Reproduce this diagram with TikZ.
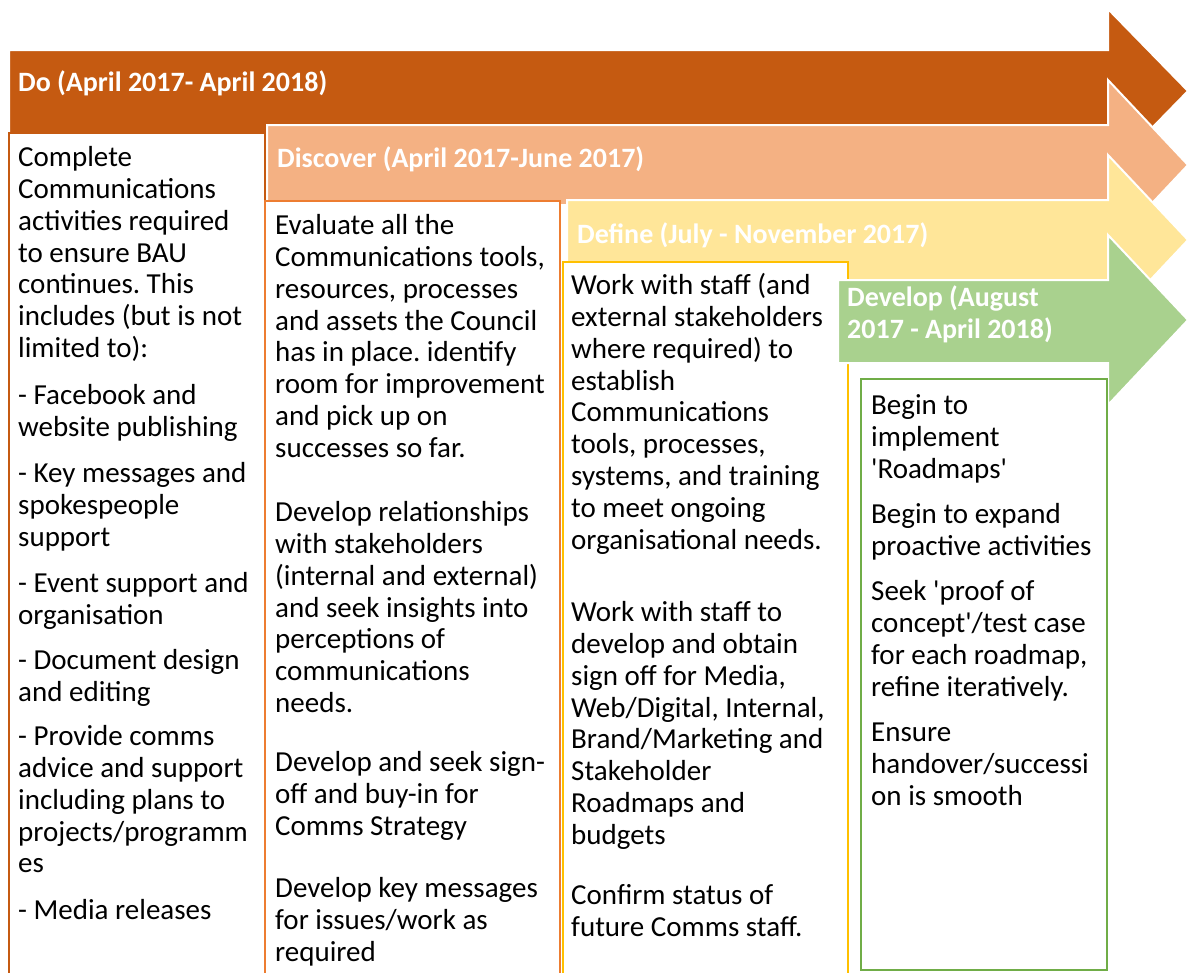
\documentclass[tikz,border=0pt]{standalone}
\usepackage{fontspec}
\setmainfont{Carlito}[Ligatures=TeXOff]
\frenchspacing
\definecolor{doc}{HTML}{C55A11}
\definecolor{disc}{HTML}{F4B183}
\definecolor{discb}{HTML}{ED7D31}
\definecolor{defc}{HTML}{FFE699}
\definecolor{defb}{HTML}{FFC000}
\definecolor{devc}{HTML}{A9D18E}
\definecolor{devb}{HTML}{70AD47}
\newcommand\firstlinestrut{\rule{0pt}{24pt}}
\tikzset{
  x=1pt, y=-1pt,
  phasearrow/.style={draw=white, line width=2pt, line join=miter},
  phasebox/.style={fill=white, line width=2.2pt},
  phasetitle/.style={anchor=north west, inner sep=0pt, align=left, text=white,
    font=\fontsize{28}{32}\selectfont\bfseries},
  bodytext/.style={anchor=north west, inner sep=0pt, align=left,
    font=\fontsize{29}{31.8}\selectfont},
}
\begin{document}
\begin{tikzpicture}
\useasboundingbox (0,0) rectangle (1188,972);
% phase arrows, back to front
\fill[doc, phasearrow] (9,50) -- (1108,50) -- (1108,9) -- (1188,91) -- (1108,173) -- (1108,133) -- (9,133) -- cycle;
\fill[disc, phasearrow] (267,125) -- (1108,125) -- (1108,80) -- (1188,165) -- (1108,250) -- (1108,205) -- (267,205) -- cycle;
\fill[defc, phasearrow] (567,200) -- (1108,200) -- (1108,155) -- (1188,240) -- (1108,325) -- (1108,282) -- (567,282) -- cycle;
% content boxes of the first three phases
\draw[phasebox, draw=doc] (9,133) rectangle (265,990);
\draw[phasebox, draw=discb] (265,201) rectangle (560,990);
\draw[phasebox, draw=defb] (563,262) rectangle (848,990);
% last arrow lies over the Define box
\fill[devc, phasearrow] (838,280) -- (1108,280) -- (1108,235) -- (1188,320) -- (1108,405) -- (1108,363) -- (838,363) -- cycle;
\draw[phasebox, draw=devb] (861,379) rectangle (1107,970);
% titles
\node[phasetitle] (tdo) at (18,91-24) {\firstlinestrut Do (April 2017- April 2018)};
\node[phasetitle] (tdisc) at (277,167-24) {\firstlinestrut Discover (April 2017-June 2017)};
\node[phasetitle] (tdef) at (577,243-24) {\firstlinestrut Define (July - November 2017)};
\node[phasetitle] (tdev) at (847,306-24) {\firstlinestrut Develop (August\\2017 - April 2018)};
% Do
\node[bodytext] (do1) at (18,166.5-24) {\firstlinestrut Complete\\Communications\\activities required\\to ensure BAU\\continues. This\\includes (but is not\\limited to):};
\node[bodytext] (do2) at (18,404.5-24) {\firstlinestrut - Facebook and\\website publishing};
\node[bodytext] (do3) at (18,482.5-24) {\firstlinestrut - Key messages and\\spokespeople\\support};
\node[bodytext] (do4) at (18,592.5-24) {\firstlinestrut - Event support and\\organisation};
\node[bodytext] (do5) at (18,669.5-24) {\firstlinestrut - Document design\\and editing};
\node[bodytext] (do6) at (18,745.5-24) {\firstlinestrut - Provide comms\\advice and support\\including plans to\\projects/programm\\es};
\node[bodytext] (do7) at (18,919.5-24) {\firstlinestrut - Media releases};
% Discover
\node[bodytext] (di1) at (275,234.5-24) {\firstlinestrut Evaluate all the\\Communications tools,\\resources, processes\\and assets the Council\\has in place. identify\\room for improvement\\and pick up on\\successes so far.};
\node[bodytext] (di2) at (275,521.5-24) {\firstlinestrut Develop relationships\\with stakeholders\\(internal and external)\\and seek insights into\\perceptions of\\communications\\needs.};
\node[bodytext] (di3) at (275,771.5-24) {\firstlinestrut Develop and seek sign-\\off and buy-in for\\Comms Strategy};
\node[bodytext] (di4) at (275,897.5-24) {\firstlinestrut Develop key messages\\for issues/work as\\required};
% Define
\node[bodytext] (de1) at (571,294.5-24) {\firstlinestrut Work with staff (and\\external stakeholders\\where required) to\\establish\\Communications\\tools, processes,\\systems, and training\\to meet ongoing\\organisational needs.};
\node[bodytext] (de2) at (571,621.5-24) {\firstlinestrut Work with staff to\\develop and obtain\\sign off for Media,\\Web/Digital, Internal,\\Brand/Marketing and\\Stakeholder\\Roadmaps and\\budgets};
\node[bodytext] (de3) at (571,904.5-24) {\firstlinestrut Confirm status of\\future Comms staff.};
% Develop
\node[bodytext] (dv1) at (871,414.5-24) {\firstlinestrut Begin to\\implement\\'Roadmaps'};
\node[bodytext] (dv2) at (871,523.5-24) {\firstlinestrut Begin to expand\\proactive activities};
\node[bodytext] (dv3) at (871,600.5-24) {\firstlinestrut Seek 'proof of\\concept'/test case\\for each roadmap,\\refine iteratively.};
\node[bodytext] (dv4) at (871,741.5-24) {\firstlinestrut Ensure\\handover/successi\\on is smooth};
\end{tikzpicture}
\end{document}
